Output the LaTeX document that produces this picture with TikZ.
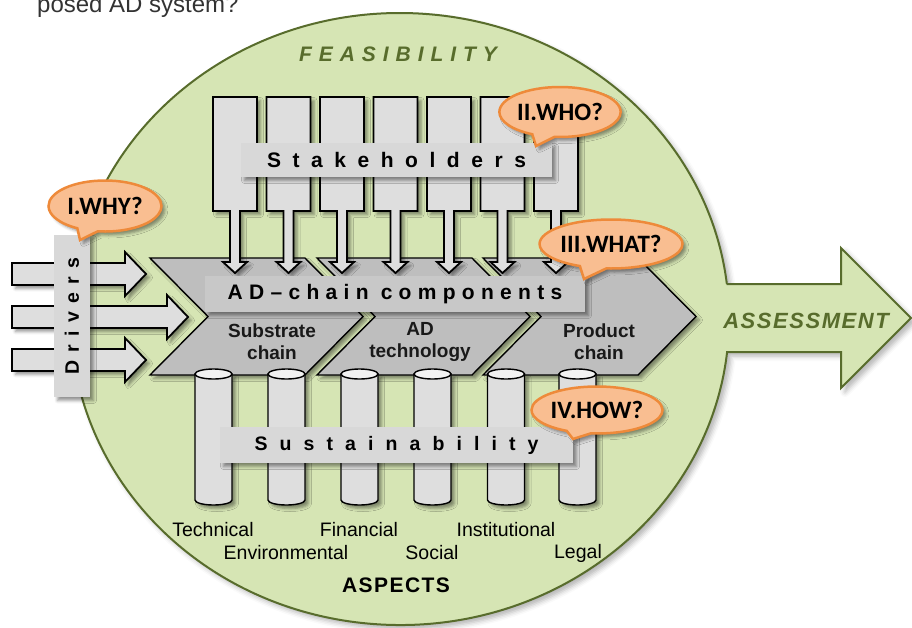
\documentclass[tikz,border=0pt]{standalone}
\usepackage{fontspec}
\setmainfont{Liberation Sans}
\newfontfamily\bubblefont{Carlito}
\usepackage{tikz}
\usetikzlibrary{shapes.callouts}
\usetikzlibrary{shadows.blur}

\definecolor{feasgreen}{RGB}{214,229,180}
\definecolor{olive}{RGB}{88,108,44}
\definecolor{boxgray}{RGB}{216,216,216}
\definecolor{adgray}{RGB}{200,200,200}
\definecolor{chaingray}{RGB}{190,190,190}
\definecolor{rectgray}{RGB}{222,222,222}
\definecolor{captop}{RGB}{242,242,242}
\definecolor{bubblefill}{RGB}{249,190,145}
\definecolor{bubbleline}{RGB}{238,138,58}

\tikzset{
	softshadow/.style={blur shadow={shadow xshift=3.5pt, shadow yshift=-3.5pt, shadow blur radius=3pt, shadow opacity=42}},
	feasibility/.style={draw=olive, line width=2pt, fill=feasgreen, blur shadow={shadow xshift=4pt, shadow yshift=-4pt, shadow blur radius=5pt, shadow opacity=30}},
	shapeline/.style={draw=black, line width=1.8pt, fill=rectgray, softshadow},
	chainshape/.style={draw=black, line width=1.4pt, fill=chaingray, softshadow},
	pillarline/.style={draw=black, line width=1.4pt, fill=rectgray},
	labelbox/.style={fill=boxgray, softshadow, inner sep=0pt},
	spaced/.style 2 args={font=\fontsize{#1}{#1}\selectfont\bfseries\addfontfeature{LetterSpace=#2}},
	bigtitle/.style 2 args={text=olive, inner sep=0pt, font=\fontsize{#1}{#1}\selectfont\bfseries\itshape\addfontfeature{LetterSpace=#2}},
	chainlabel/.style={inner sep=0pt, align=center, text=black!90, font=\fontsize{19}{22}\selectfont\bfseries},
	aspect/.style={inner sep=0pt, font=\fontsize{19.5}{19.5}\selectfont},
	bubble/.style={ellipse callout, draw=bubbleline, line width=2.5pt, fill=bubblefill, softshadow, inner sep=0pt, callout pointer arc=22, font=\bubblefont\fontsize{25}{25}\selectfont\bfseries},
	pics/driverarrow/.style={code={
		\draw[shapeline] (12,-11) -- ({#1-21},-11) -- ({#1-21},-22) -- (#1,0) -- ({#1-21},22) -- ({#1-21},11) -- (12,11) -- cycle;
	}},
	pics/stakearrow/.style={code={
		\draw[shapeline] (-22,97) -- (22,97) -- (22,211) -- (5,211) -- (5,262) -- (12,262) -- (0,273) -- (-12,262) -- (-5,262) -- (-5,211) -- (-22,211) -- cycle;
	}},
	pics/chevron/.style={code={
		\draw[chainshape] (0,0) -- (155,0) -- (213,58.5) -- (155,117) -- (0,117) -- (58,58.5) -- cycle;
	}},
	pics/pillar/.style={code={
		\draw[pillarline, softshadow] (-18.5,0) -- (-18.5,126) arc[start angle=180, end angle=0, x radius=18.5, y radius=5] -- (18.5,0) -- cycle;
		\draw[pillarline, fill=captop] (0,0) ellipse[x radius=18.5, y radius=5];
	}}
}

\begin{document}
\begin{tikzpicture}[x=1pt, y=-1pt]
	\useasboundingbox (0,0) rectangle (912,627);

	\node[anchor=base west, inner sep=0pt, text=black!80, font=\fontsize{24}{24}\selectfont] (caption) at (37,12) {posed AD system?};

	\filldraw[feasibility] (726.8,284) -- (841,284) -- (841,248) -- (911,318) -- (841,388) -- (841,352) -- (727.1,352)
		arc[start angle=6.19, end angle=353.43, x radius=329, y radius=306] -- cycle;
	\node[bigtitle={21}{33}] (feas) at (398,54) {FEASIBILITY};
	\node[bigtitle={22}{7}] (assess) at (806,321) {ASSESSMENT};

	\pic at (0,274) {driverarrow=146};
	\pic at (0,317) {driverarrow=188};
	\pic at (0,360) {driverarrow=146};
	\node[labelbox, rotate=90, minimum width=162, minimum height=36, spaced={19.5}{43}] (drivers) at (72,316) {Drivers};

	\pic at (150,258) {chevron};
	\pic at (317,258) {chevron};
	\pic at (483,258) {chevron};
	\node[chainlabel] (substrate) at (272,342) {Substrate\\chain};
	\node[chainlabel] (adtech) at (420,342) {AD\\technology};
	\node[chainlabel] (product) at (599,342) {Product\\chain};

	\pic at (235,0) {stakearrow};
	\pic at (288.5,0) {stakearrow};
	\pic at (342,0) {stakearrow};
	\pic at (395.5,0) {stakearrow};
	\pic at (449,0) {stakearrow};
	\pic at (502.5,0) {stakearrow};
	\pic at (556,0) {stakearrow};
	\node[labelbox, minimum width=311, minimum height=34, spaced={21}{55}] (stake) at (396.5,160) {Stakeholders};
	\node[labelbox, fill=adgray, minimum width=380, minimum height=36, spaced={21}{30}] (adchain) at (395,294) {AD--chain components};

	\pic at (213.5,374) {pillar};
	\pic at (286.5,374) {pillar};
	\pic at (359.5,374) {pillar};
	\pic at (432.5,374) {pillar};
	\pic at (506,374) {pillar};
	\pic at (577.5,374) {pillar};
	\node[labelbox, minimum width=353, minimum height=36, spaced={19.5}{62}] (sustain) at (396.5,445) {Sustainability};

	\node[aspect] (technical) at (213,530) {Technical};
	\node[aspect] (environmental) at (286,553) {Environmental};
	\node[aspect] (financial) at (359,530) {Financial};
	\node[aspect] (social) at (432,553) {Social};
	\node[aspect] (institutional) at (506,530) {Institutional};
	\node[aspect] (legal) at (578,553) {Legal};
	\node[inner sep=0pt, spaced={21}{7}] (aspects) at (396,585) {ASPECTS};

	\node[bubble, minimum width=113, minimum height=51, callout absolute pointer={(80,240)}] (why) at (105,206) {I.WHY?};
	\node[bubble, minimum width=115, minimum height=50, callout absolute pointer={(536,146)}] (who) at (560,112) {II.WHO?};
	\node[bubble, minimum width=123, minimum height=49, callout absolute pointer={(584,279)}] (what) at (611,244) {III.WHAT?};
	\node[bubble, minimum width=113, minimum height=47, callout absolute pointer={(573,439)}] (how) at (597,410) {IV.HOW?};
\end{tikzpicture}
\end{document}
